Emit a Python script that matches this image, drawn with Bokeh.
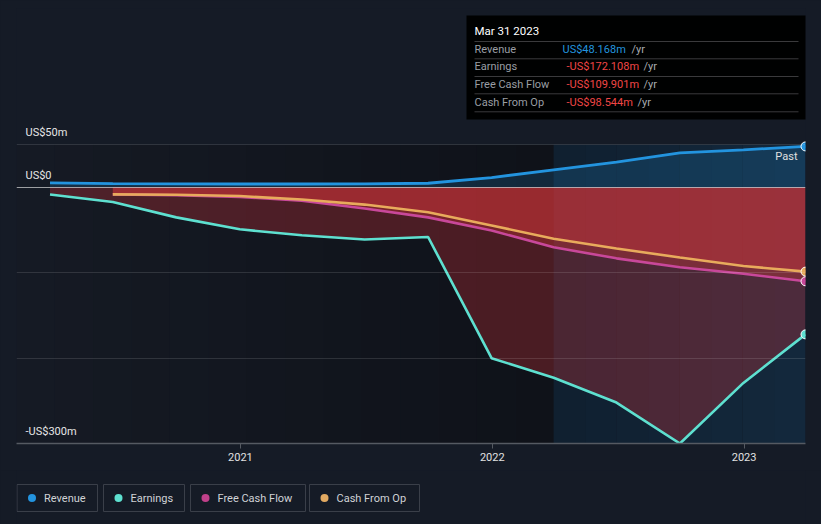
from datetime import datetime
import pandas as pd
from bokeh.plotting import figure
from bokeh.models import (ColumnDataSource, Range1d, BoxAnnotation, Span, FixedTicker,
                          DatetimeTickFormatter, GlobalInlineStyleSheet)
from bokeh.layouts import column
from bokeh.core.properties import value
from bokeh.embed import file_html
from bokeh.resources import INLINE

# ---------------- data (US$ millions, trailing twelve months) ----------------
dates = ["2020-03-31", "2020-06-30", "2020-09-30", "2020-12-31", "2021-03-31", "2021-06-30",
         "2021-09-30", "2021-12-31", "2022-03-31", "2022-06-30", "2022-09-30", "2022-12-31",
         "2023-03-31"]
revenue = [5.5, 4.6, 4.2, 4.1, 4.1, 4.2, 5.0, 11.7, 20.7, 29.7, 40.6, 44.2, 48.168]
earnings = [-8.2, -17, -35, -49, -56, -61, -58, -200, -223, -252, -300, -229, -172.108]
cash_dates = dates[1:]
free_cash_flow = [-8, -9, -11, -15.5, -24.5, -35, -50.4, -70, -83, -93.4, -101, -109.901]
cash_from_op = [-8, -8.5, -10, -14, -20, -29, -44.5, -60, -71.5, -82, -92, -98.544]

x_ticks = ["2021-01-01", "2022-01-01", "2023-01-01"]
y_ticks = [50, 0, -300]
y_tick_labels = ["US$50m", "US$0", "-US$300m"]
grid_ticks = [50, -100, -200]
past_start = "2022-03-31"

legend_labels = ["Revenue", "Earnings", "Free Cash Flow", "Cash From Op"]
tooltip_date = "Mar 31 2023"
tooltip_rows = ["Revenue", "Earnings", "Free Cash Flow", "Cash From Op"]
tooltip_values = ["US$48.168m", "-US$172.108m", "-US$109.901m", "-US$98.544m"]

# ---------------- styles ----------------
BG = "#151b26"
C_REV = "#2394df"
C_EARN = "#5ee0d0"
C_FCF = "#c8489a"
C_CFO = "#e8ab5c"
FILL_RED = "#e6373c"
FONT = value("Roboto")

d = pd.to_datetime(dates)
cd = pd.to_datetime(cash_dates)

X0 = datetime(2020, 2, 11, 10)
X1 = datetime(2023, 3, 31)
Y0, Y1 = -300, 209.8
EPOCH = datetime(1970, 1, 1)


def ms(dt):
    return (pd.Timestamp(dt).to_pydatetime() - EPOCH).total_seconds() * 1000


x0ms, x1ms = ms(X0), ms(X1)


# page-pixel -> data helpers (frame spans page x 16..805, y 8..443)
def dx(px):
    return x0ms + (px - 16) / 789 * (x1ms - x0ms)


def dy(py):
    return Y1 - (py - 8) / 435 * (Y1 - Y0)


p = figure(width=821, height=470, x_axis_type="datetime",
           x_range=Range1d(X0, X1), y_range=Range1d(Y0, Y1),
           output_backend="svg", toolbar_location=None, y_axis_location=None,
           min_border_left=16, min_border_right=16, min_border_top=8, min_border_bottom=27,
           background_fill_color=BG, border_fill_color=BG, outline_line_color=None)

# background shading (gradient in the historic part, blue tint in the "past" part)
ps_ms = ms(past_start)
n = 14
c_a, c_b = (21, 26, 36), (15, 18, 25)
for i in range(n):
    t = i / (n - 1)
    col = "#%02x%02x%02x" % tuple(int(round(a + (b - a) * t)) for a, b in zip(c_a, c_b))
    l = x0ms + (ps_ms - x0ms) * i / n
    r = x0ms + (ps_ms - x0ms) * (i + 1) / n
    p.add_layout(BoxAnnotation(left=l, right=r, top=y_ticks[0], bottom=Y0, fill_color=col,
                               fill_alpha=1, line_color=None, level="underlay"))
n2 = 8
c_c, c_d = (16, 32, 48), (19, 40, 60)
for i in range(n2):
    t = i / (n2 - 1)
    col = "#%02x%02x%02x" % tuple(int(round(a + (b - a) * t)) for a, b in zip(c_c, c_d))
    l = ps_ms + (x1ms - ps_ms) * i / n2
    r = ps_ms + (x1ms - ps_ms) * (i + 1) / n2
    p.add_layout(BoxAnnotation(left=l, right=r, top=y_ticks[0], bottom=Y0, fill_color=col,
                               fill_alpha=1, line_color=None, level="underlay"))

# grid
p.xgrid.visible = False
p.ygrid.ticker = FixedTicker(ticks=grid_ticks)
p.ygrid.grid_line_color = "#ffffff"
p.ygrid.grid_line_alpha = 0.12
p.ygrid.level = "glyph"

# x axis
p.xaxis.ticker = FixedTicker(ticks=[ms(t) for t in x_ticks])
p.xaxis.formatter = DatetimeTickFormatter(years="%Y", months="%Y", days="%Y")
p.xaxis.axis_line_color = "#555a62"
p.xaxis.axis_line_width = 1.5
p.xaxis.major_tick_line_color = "#555a62"
p.xaxis.major_tick_out = 5
p.xaxis.major_tick_in = 0
p.xaxis.minor_tick_line_color = None
p.xaxis.major_label_text_color = "#e2e2e2"
p.xaxis.major_label_text_font_size = "11px"
p.xaxis.major_label_text_font = "Roboto"
p.xaxis.major_label_standoff = 4

src = ColumnDataSource(dict(x=d, rev=revenue, earn=earnings))
csrc = ColumnDataSource(dict(x=cd, fcf=free_cash_flow, cfo=cash_from_op))

# area fills
p.varea(x="x", y1=0, y2="rev", source=src, fill_color=C_REV, fill_alpha=0.18)
p.varea(x="x", y1=0, y2="earn", source=src, fill_color=FILL_RED, fill_alpha=0.28)
p.varea(x="x", y1=0, y2="fcf", source=csrc, fill_color=FILL_RED, fill_alpha=0.3)
p.varea(x="x", y1=0, y2="cfo", source=csrc, fill_color=FILL_RED, fill_alpha=0.3)

# lines
p.line(x="x", y="rev", source=src, line_color=C_REV, line_width=2.8)
p.line(x="x", y="earn", source=src, line_color=C_EARN, line_width=2.6)
p.line(x="x", y="fcf", source=csrc, line_color=C_FCF, line_width=2.6)
p.line(x="x", y="cfo", source=csrc, line_color=C_CFO, line_width=2.6)

# end markers
p.scatter(x=[d[-1]] * 4, y=[revenue[-1], earnings[-1], free_cash_flow[-1], cash_from_op[-1]],
          size=9, fill_color=[C_REV, C_EARN, C_FCF, C_CFO], line_color="#ffffff", line_width=1)

# zero line
p.add_layout(Span(location=0, dimension="width", line_color="#e6e6e6", line_alpha=0.65,
                  line_width=1.2))

# y labels
p.text(x=[X0] * len(y_ticks), y=y_ticks, text=y_tick_labels, x_offset=9, y_offset=-12,
       text_baseline="middle", text_align="left", text_font_size="11px",
       text_color="#e6e6e6", text_font=FONT)

# "Past" label
p.text(x=[d[-1]], y=[y_ticks[0]], text=["Past"], x_offset=-8, y_offset=12,
       text_baseline="middle", text_align="right", text_font_size="11px",
       text_color="#e0e0e0", text_font=FONT)

# tooltip box
p.quad(left=[dx(466)], right=[dx(806)], top=[dy(15)], bottom=[dy(119)],
       fill_color="#000000", fill_alpha=0.96, line_color=None)
sep_y = [41, 58.3, 76, 93.3, 111.3]
p.segment(x0=[dx(474)] * len(sep_y), x1=[dx(798)] * len(sep_y),
          y0=[dy(v) for v in sep_y], y1=[dy(v) for v in sep_y],
          line_color="#3a3a3c", line_width=1)
p.text(x=[dx(474)], y=[dy(30.7)], text=[tooltip_date], text_baseline="middle",
       text_font_size="11.5px", text_color="#ffffff", text_font=FONT)
row_y = [49, 66.3, 84.3, 101.7]
p.text(x=[dx(474)] * 4, y=[dy(v) for v in row_y], text=tooltip_rows, text_baseline="middle",
       text_font_size="11px", text_color="#9a9ea4", text_font=FONT)
val_x = [562, 566, 566, 566]
val_c = [C_REV, "#f04646", "#f04646", "#f04646"]
p.text(x=[dx(v) for v in val_x], y=[dy(v) for v in row_y], text=tooltip_values,
       text_baseline="middle", text_font_size="11px", text_color=val_c, text_font=FONT)
yr_x = [631, 643, 643, 637]
p.text(x=[dx(v) for v in yr_x], y=[dy(v) for v in row_y], text=["/yr"] * 4,
       text_baseline="middle", text_font_size="11px", text_color="#a8abb0", text_font=FONT)

# ---------------- legend (data units = page pixels) ----------------
lf = figure(width=821, height=54, x_range=Range1d(16, 805), y_range=Range1d(54, 0),
            toolbar_location=None, output_backend="svg",
            min_border_left=16, min_border_right=16, min_border_top=0, min_border_bottom=0,
            background_fill_color=BG, border_fill_color=BG, outline_line_color=None,
            x_axis_location=None, y_axis_location=None)
lf.grid.visible = False
box_l = [16.5, 103, 190, 309]
box_r = [97, 184, 305, 419]
lf.quad(left=box_l, right=box_r, top=[14] * 4, bottom=[41] * 4, fill_color=BG,
        line_color="#3a3f49", line_width=1)
lf.scatter(x=[v + 15 for v in box_l], y=[27.5] * 4, size=8,
           fill_color=[C_REV, C_EARN, "#c0408a", "#e2aa62"], line_color=None)
lf.text(x=[v + 27 for v in box_l], y=[27.5] * 4, text=legend_labels, text_baseline="middle",
        text_font_size="11px", text_color="#d0d2d6", text_font=FONT)

layout = column(p, lf, spacing=0)
layout.stylesheets = [GlobalInlineStyleSheet(
    css="html, body { background-color: #151b26; margin: 0; padding: 0; }")]

open("out.html", "w").write(file_html(layout, INLINE))
